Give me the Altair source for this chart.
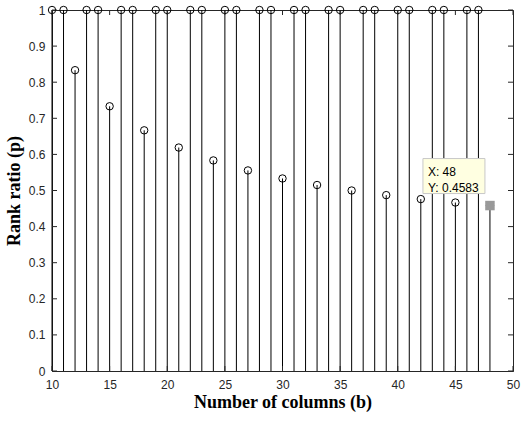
import altair as alt
import pandas as pd

# Number of columns b and the rank ratio p measured for each
columns = list(range(10, 49))
rank_ratio = [
    1, 1, 0.8333,
    1, 1, 0.7333,
    1, 1, 0.6667,
    1, 1, 0.6190,
    1, 1, 0.5833,
    1, 1, 0.5556,
    1, 1, 0.5333,
    1, 1, 0.5152,
    1, 1, 0.5000,
    1, 1, 0.4872,
    1, 1, 0.4762,
    1, 1, 0.4667,
    1, 1, 0.4583,
]

x_ticks = [10, 15, 20, 25, 30, 35, 40, 45, 50]
y_ticks = [0, 0.1, 0.2, 0.3, 0.4, 0.5, 0.6, 0.7, 0.8, 0.9, 1]

# highlighted point (data tip)
tip_index = len(columns) - 1

W, H = 461, 361
AXIS_COLOR = "#262626"

df = pd.DataFrame({"b": columns, "p": rank_ratio})
tip_df = df.iloc[[tip_index]].reset_index(drop=True)
tip_df["lx"] = "X: " + tip_df["b"].astype(str)
tip_df["ly"] = "Y: " + tip_df["p"].map(lambda v: f"{v:.4f}")

xscale = alt.Scale(domain=[10, 50], nice=False, zero=False)
yscale = alt.Scale(domain=[0, 1], nice=False, zero=False)

x_axis = alt.Axis(
    values=x_ticks, grid=False, tickSize=0, labelPadding=8,
    labelOverlap=False, labelFlush=False,
    labelFont="Liberation Sans", labelFontSize=12, labelColor=AXIS_COLOR,
    domainColor=AXIS_COLOR, title="Number of columns (b)",
    titleFont="Liberation Serif", titleFontSize=18, titleFontWeight="bold",
    titleColor="#000000", titlePadding=3,
)
y_axis = alt.Axis(
    values=y_ticks, grid=False, tickSize=0, labelPadding=7, format="~g",
    labelOverlap=False, labelFlush=False,
    labelFont="Liberation Sans", labelFontSize=12, labelColor=AXIS_COLOR,
    domainColor=AXIS_COLOR, title="Rank ratio (p)",
    titleFont="Liberation Serif", titleFontSize=18, titleFontWeight="bold",
    titleColor="#000000", titlePadding=5,
)


def X(field):
    return alt.X(field, scale=xscale, axis=x_axis)


def Y(field):
    return alt.Y(field, scale=yscale, axis=y_axis)


base = alt.Chart(df)

stems = base.mark_rule(color="#000000", strokeWidth=1).encode(
    x=X("b:Q"), y=Y("p:Q"), y2=alt.datum(0),
)

heads = base.mark_point(
    shape="circle", filled=False, size=55, color="#000000", strokeWidth=1, opacity=1
).encode(x=X("b:Q"), y=Y("p:Q"))

# inward tick marks on all four sides
xt = alt.Chart(pd.DataFrame({"t": x_ticks}))
yt = alt.Chart(pd.DataFrame({"t": y_ticks}))
tick_style = dict(color=AXIS_COLOR, strokeWidth=1)
ticks_bottom = xt.mark_rule(**tick_style).encode(
    x=X("t:Q"), y=alt.value(H), y2=alt.value(H - 5))
ticks_top = xt.mark_rule(**tick_style).encode(
    x=X("t:Q"), y=alt.value(0), y2=alt.value(5))
ticks_left = yt.mark_rule(**tick_style).encode(
    y=Y("t:Q"), x=alt.value(0), x2=alt.value(5))
ticks_right = yt.mark_rule(**tick_style).encode(
    y=Y("t:Q"), x=alt.value(W), x2=alt.value(W - 5))

tip = alt.Chart(tip_df)
tip_marker = tip.mark_square(size=90, color="#999999", opacity=1).encode(
    x=X("b:Q"), y=Y("p:Q"))
tip_box = tip.mark_rect(
    fill="#FFFFE1", stroke="#C8C8C8", strokeWidth=1,
    xOffset=-67, x2Offset=-5, yOffset=-47, y2Offset=-12,
).encode(x=X("b:Q"), x2="b:Q", y=Y("p:Q"), y2="p:Q")
tip_text1 = tip.mark_text(
    align="left", baseline="alphabetic", dx=-62, dy=-30,
    font="Liberation Sans", fontSize=12, color="#000000",
).encode(x=X("b:Q"), y=Y("p:Q"), text="lx:N")
tip_text2 = tip.mark_text(
    align="left", baseline="alphabetic", dx=-62, dy=-14,
    font="Liberation Sans", fontSize=12, color="#000000",
).encode(x=X("b:Q"), y=Y("p:Q"), text="ly:N")

chart = alt.layer(
    stems, heads, ticks_bottom, ticks_top, ticks_left, ticks_right,
    tip_marker, tip_box, tip_text1, tip_text2,
).properties(
    width=W, height=H,
    autosize=alt.AutoSizeParams(type="none"),
    padding={"left": 52, "top": 10, "right": 9, "bottom": 50},
    background="#ffffff",
).configure_view(stroke=AXIS_COLOR, strokeWidth=1)

chart.save("out.html", embed_options={"renderer": "svg", "actions": False})
